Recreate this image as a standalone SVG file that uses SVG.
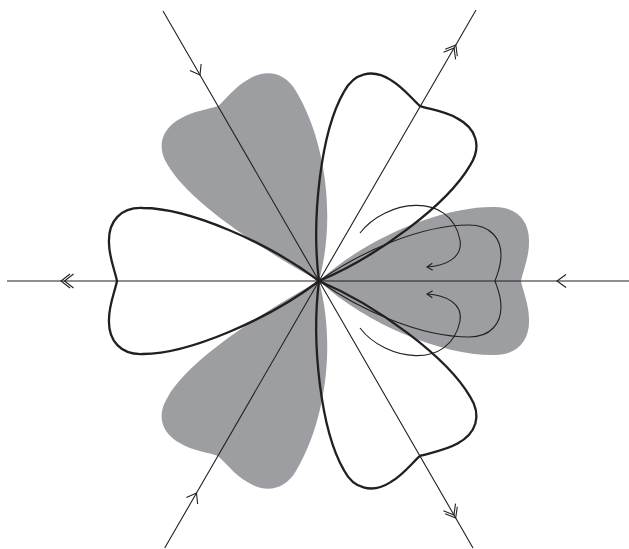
<svg xmlns="http://www.w3.org/2000/svg" xmlns:xlink="http://www.w3.org/1999/xlink" width="629" height="549" viewBox="0 0 629 549">
<style>
.bg{fill:#ffffff}
.gray{fill:#9d9ea2;stroke:none}
.axis{fill:none;stroke:#231f20;stroke-width:1.1}
.thin{fill:none;stroke:#231f20;stroke-width:1.1}
.thick{fill:none;stroke:#231f20;stroke-width:2.3;stroke-linejoin:round}
.mk{fill:none;stroke:#231f20;stroke-width:1.1}
</style>
<defs>
<path id="petal" d="M0,0 C50,-38 130,-73 176,-73 C198,-74 211,-60 210,-38 C210,-24 204,-10 202,0 C204,10 210,24 210,38 C211,60 198,74 176,73 C130,73 50,38 0,0 Z"/>
<path id="grayFull" d="M0,0 C50,-45 125,-75 176,-74 C198,-74 211,-60 210,-38 C210,-24 204,-10 202,0 C204,10 210,24 210,38 C211,60 198,74 176,74 C125,75 50,45 0,0 Z"/>
<path id="grayAsym" d="M0,0 C50,-30 130,-73 176,-73 C198,-74 211,-60 210,-38 C210,-24 204,-10 202,0 C204,10 210,24 210,38 C211,60 198,75 176,75 C120,76 48,48 0,0 Z"/>
<path id="petalSmall" d="M0,0 C40,-28 100,-56 150,-56 C172,-56 182,-42 182,-26 C182,-14 178,-6 176,0 C178,6 182,14 182,26 C182,42 172,56 150,56 C100,56 40,28 0,0 Z"/>
<marker id="single" markerUnits="userSpaceOnUse" orient="auto" markerWidth="20" markerHeight="20" refX="0" refY="0" viewBox="-12 -10 20 20" overflow="visible">
<path class="mk" d="M-9,-6.5 L0,0 L-9,6.5"/>
</marker>
<marker id="double" markerUnits="userSpaceOnUse" orient="auto" markerWidth="20" markerHeight="20" refX="0" refY="0" viewBox="-14 -10 20 20" overflow="visible">
<path class="mk" d="M-9,-7 L0,0 L-9,7 M-12.5,-7 L-3.5,0 L-12.5,7"/>
</marker>
<marker id="small" markerUnits="userSpaceOnUse" orient="auto" markerWidth="12" markerHeight="12" refX="0" refY="0" viewBox="-6 -6 12 12" overflow="visible">
<path class="mk" d="M-5.5,-3.5 L0,0 L-5.5,3.5"/>
</marker>
</defs>
<rect class="bg" x="0" y="0" width="629" height="549"/>
<g id="gray-petals">
<use id="petal-right" class="gray" xlink:href="#grayFull" href="#grayFull" transform="translate(319,281)"/>
<use id="petal-upper-left" class="gray" xlink:href="#grayAsym" href="#grayAsym" transform="translate(319,281) rotate(-120)"/>
<use id="petal-lower-left" class="gray" xlink:href="#grayAsym" href="#grayAsym" transform="translate(319,281) rotate(120) scale(1,-1)"/>
</g>
<g id="connectors">
<path class="axis" d="M163,11 L200,75 L319,281" marker-mid="url(#single)"/>
<path class="axis" d="M319,281 L455.7,518 L473,548" marker-mid="url(#double)"/>
<path class="axis" d="M164.7,548 L196.5,493 L319,281" marker-mid="url(#single)"/>
<path class="axis" d="M319,281 L455.8,45 L476,10" marker-mid="url(#double)"/>
<path class="axis" d="M629,281 L557,281 L319,281" marker-mid="url(#single)"/>
<path class="axis" d="M319,281 L61,281 L7,281" marker-mid="url(#double)"/>
<path class="thin" d="M360,233 C385,200 450,190 460,240 C463,258 445,266 427,267" marker-end="url(#small)"/>
<path class="thin" d="M360,328 C385,361 450,371 460,321 C463,303 445,295 427,294" marker-end="url(#small)"/>
</g>
<g id="inner-petal">
<use class="thin" xlink:href="#petalSmall" href="#petalSmall" transform="translate(319,281)"/>
</g>
<g id="white-petals">
<use id="petal-left" class="thick" xlink:href="#petal" href="#petal" transform="translate(319,281) rotate(180)"/>
<use id="petal-upper-right" class="thick" xlink:href="#petal" href="#petal" transform="translate(319,281) rotate(-60)"/>
<use id="petal-lower-right" class="thick" xlink:href="#petal" href="#petal" transform="translate(319,281) rotate(60)"/>
</g>
</svg>
